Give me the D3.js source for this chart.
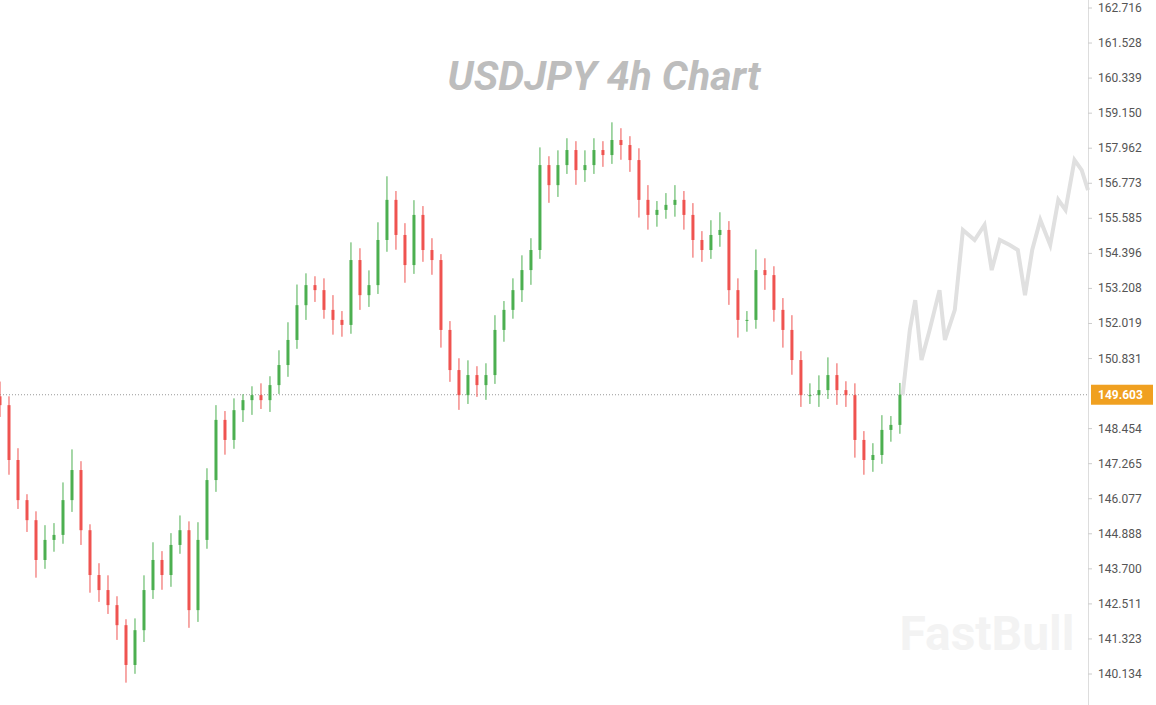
<!DOCTYPE html><html><head><meta charset="utf-8">
<script src="https://cdn.jsdelivr.net/npm/d3@7/dist/d3.min.js"></script>
<style>body{margin:0;background:#fff;font-family:Roboto,Arial,sans-serif}</style></head><body>
<svg id="c" width="1156" height="705"></svg>
<script>
const closes=[149.25,147.39,146.03,145.35,144.00,144.68,144.85,146.03,147.05,145.01,143.49,142.98,142.47,141.79,140.44,141.62,142.98,144.00,143.49,144.51,145.01,142.30,144.68,146.71,148.75,148.07,149.08,149.42,149.59,149.42,149.93,150.61,151.46,152.64,153.32,153.15,152.48,152.14,151.97,154.17,152.98,153.32,154.85,156.21,155.02,154.00,155.70,154.51,154.17,151.80,150.44,149.59,150.27,149.93,150.27,151.80,152.48,153.15,153.83,154.51,157.39,156.71,157.39,157.90,157.22,157.39,157.90,157.73,158.24,158.07,157.56,156.21,155.70,155.87,156.04,156.21,155.70,154.85,154.51,155.02,155.19,153.15,152.14,152.14,153.83,153.66,152.48,151.80,150.78,149.59,149.59,149.76,150.27,149.76,149.59,148.07,147.39,147.56,148.41,148.58,149.603];
const wickUp=[0.5,0.3,0.4,0.2,0.3,0.5,0.4,0.6,0.7,0.3,0.2,0.4,0.5,0.3,0.2,0.4,0.5,0.6,0.3,0.4,0.5,0.3,0.6,0.4,0.5,0.3,0.4,0.2,0.3,0.4,0.3,0.5,0.6,0.7,0.4,0.3,0.4,0.5,0.3,0.6,0.4,0.5,0.6,0.8,0.3,0.4,0.5,0.3,0.4,0.2,0.3,0.4,0.5,0.3,0.4,0.5,0.3,0.4,0.5,0.4,0.6,0.3,0.5,0.4,0.3,0.5,0.4,0.3,0.6,0.4,0.3,0.4,0.5,0.3,0.4,0.5,0.3,0.4,0.3,0.5,0.6,0.3,0.4,0.3,0.7,0.4,0.3,0.4,0.5,0.3,0.4,0.5,0.6,0.4,0.3,0.4,0.3,0.4,0.5,0.3,0.4];
const wickDn=[0.4,0.5,0.3,0.4,0.6,0.3,0.4,0.3,0.4,0.5,0.6,0.4,0.3,0.5,0.6,0.3,0.4,0.3,0.5,0.4,0.3,0.6,0.4,0.3,0.4,0.5,0.3,0.4,0.5,0.3,0.4,0.3,0.4,0.3,0.5,0.4,0.3,0.5,0.4,0.3,0.5,0.4,0.3,0.4,0.5,0.6,0.3,0.4,0.5,0.6,0.4,0.5,0.3,0.4,0.5,0.3,0.4,0.3,0.4,0.5,0.3,0.6,0.4,0.3,0.5,0.4,0.3,0.4,0.3,0.5,0.4,0.6,0.5,0.4,0.3,0.4,0.5,0.6,0.4,0.3,0.4,0.5,0.6,0.4,0.3,0.5,0.4,0.6,0.5,0.4,0.3,0.4,0.3,0.5,0.4,0.6,0.5,0.4,0.3,0.4,0.3];
const ghostT=[100.3,101.1,101.7,102.4,103.3,104.4,105.0,106.1,107.0,108.3,109.4,110.2,111.1,112.2,113.1,113.9,114.7,115.6,116.7,117.6,118.4,119.4,120.2,120.9];
const ghostP=[149.59,151.80,152.81,150.78,151.80,153.15,151.46,152.48,155.19,154.85,155.36,153.83,154.85,154.68,154.51,152.98,154.51,155.53,154.68,156.21,155.87,157.56,157.22,156.54];
const yTicks=[162.716,161.528,160.339,159.150,157.962,156.773,155.585,154.396,153.208,152.019,150.831,148.454,147.265,146.077,144.888,143.700,142.511,141.323,140.134];
const lastPrice=149.603;

const svg=d3.select("#c");
const axisX=1088;
const y=d3.scaleLinear().domain([140.134,162.716]).range([674,8]);
const x=d3.scaleLinear().domain([0,120.9]).range([0,axisX]);
svg.append("text").attr("x",987).attr("y",650).attr("text-anchor","middle").attr("font-size",48).attr("font-weight",700).attr("fill","#f3f3f3").text("FastBull");
svg.append("text").attr("x",604).attr("y",90).attr("text-anchor","middle").attr("font-size",41).attr("font-weight",700).attr("font-style","italic").attr("fill","#bdbdbd").text("USDJPY 4h Chart");
svg.append("line").attr("x1",0).attr("x2",axisX).attr("y1",y(lastPrice)).attr("y2",y(lastPrice)).attr("stroke","#999").attr("stroke-dasharray","1,2");
svg.append("path").datum(ghostT.map((t,i)=>[t,ghostP[i]])).attr("d",d3.line().x(d=>x(d[0])).y(d=>y(d[1]))).attr("fill","none").attr("stroke","#e0e0e0").attr("stroke-width",4);
const data=closes.map((c,i)=>{const o=i?closes[i-1]:c+0.3;return{i,o,c,h:Math.max(o,c)+wickUp[i],l:Math.min(o,c)-wickDn[i]};});
const g=svg.append("g");
data.forEach(d=>{const col=d.c>=d.o?"#4caf50":"#ef5350";const cx=x(d.i);
 g.append("line").attr("x1",cx).attr("x2",cx).attr("y1",y(d.h)).attr("y2",y(d.l)).attr("stroke",col).attr("stroke-width",1);
 g.append("rect").attr("x",cx-1.5).attr("width",3).attr("y",y(Math.max(d.o,d.c))).attr("height",Math.max(1,Math.abs(y(d.o)-y(d.c)))).attr("fill",col);
});
svg.append("line").attr("x1",axisX+0.5).attr("x2",axisX+0.5).attr("y1",0).attr("y2",705).attr("stroke","#ddd");
yTicks.forEach(t=>{svg.append("line").attr("x1",axisX).attr("x2",axisX+4).attr("y1",y(t)).attr("y2",y(t)).attr("stroke","#ccc");
 svg.append("text").attr("x",axisX+10).attr("y",y(t)+4).attr("font-size",12).attr("fill","#555").text(t.toFixed(3));});
svg.append("rect").attr("x",axisX+3).attr("y",y(lastPrice)-10).attr("width",62).attr("height",20).attr("fill","#f0a020");
svg.append("text").attr("x",axisX+10).attr("y",y(lastPrice)+4).attr("font-size",12).attr("font-weight",700).attr("fill","#fff").text(lastPrice.toFixed(3));
</script></body></html>
